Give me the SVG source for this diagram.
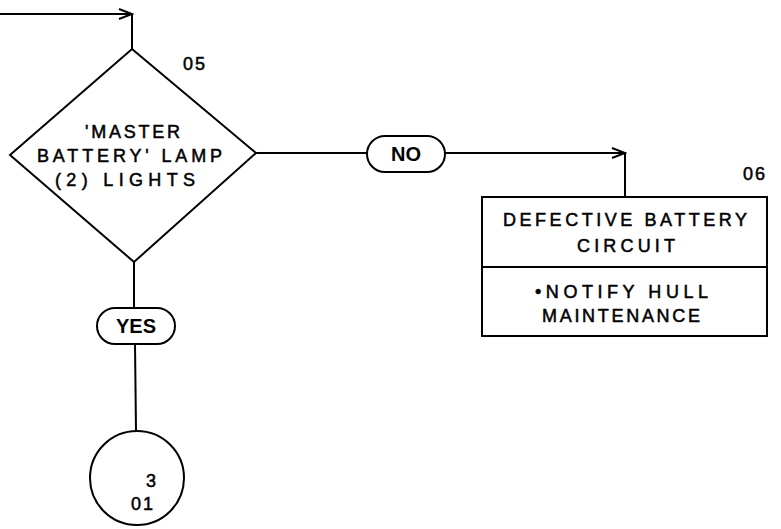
<svg xmlns="http://www.w3.org/2000/svg" width="781" height="529" viewBox="0 0 781 529">
<style>
.ln{fill:none;stroke:#000;stroke-width:2;stroke-linejoin:miter}
.shape{fill:#fff;stroke:#000;stroke-width:2}
.t{font-family:"Liberation Sans",Arial,sans-serif;font-size:18px;fill:#000;stroke:#000;stroke-width:0.5}
.b{font-family:"Liberation Sans",Arial,sans-serif;font-size:20px;font-weight:bold;fill:#000;text-anchor:middle}
.n{font-family:"Liberation Sans",Arial,sans-serif;font-size:18px;fill:#000;stroke:#000;stroke-width:0.5;letter-spacing:2px}
</style>
<defs>
<marker id="arr" markerWidth="16" markerHeight="12" refX="14" refY="6" orient="auto" markerUnits="userSpaceOnUse">
<path d="M1,1 L14,6 L1,11" fill="none" stroke="#000" stroke-width="2"/>
</marker>
</defs>
<rect width="781" height="529" fill="#fff"/>
<g id="connectors">
<path class="ln" d="M0,14 L132,14" marker-end="url(#arr)"/>
<path class="ln" d="M132,14 L132,49"/>
<path class="ln" d="M256,153 L367,153"/>
<path class="ln" d="M445,153 L625,153" marker-end="url(#arr)"/>
<path class="ln" d="M625,153 L625,197"/>
<path class="ln" d="M134,262 L134,308"/>
<path class="ln" d="M135,344 L136,431"/>
</g>
<g id="n05">
<polygon class="shape" points="132,49 256,153 134,262 10,155"/>
<text class="t" x="85" y="138" textLength="95" lengthAdjust="spacing">'MASTER</text>
<text class="t" x="37" y="162" textLength="185" lengthAdjust="spacing">BATTERY' LAMP</text>
<text class="t" x="55" y="186" textLength="140" lengthAdjust="spacing">(2) LIGHTS</text>
<text class="n" x="183" y="70">05</text>
</g>
<g id="no">
<rect class="shape" x="367" y="136" width="78" height="36" rx="18" ry="18"/>
<text class="b" x="406" y="161">NO</text>
</g>
<g id="yes">
<rect class="shape" x="97" y="308" width="78" height="36" rx="18" ry="18"/>
<text class="b" x="136" y="333">YES</text>
</g>
<g id="n06">
<rect class="shape" x="482" y="197" width="285" height="139"/>
<line class="ln" x1="482" y1="267" x2="767" y2="267"/>
<text class="t" x="503" y="226" textLength="244" lengthAdjust="spacing">DEFECTIVE BATTERY</text>
<text class="t" x="577" y="252" textLength="98" lengthAdjust="spacing">CIRCUIT</text>
<text class="t" x="535" y="298" textLength="173" lengthAdjust="spacing">•NOTIFY HULL</text>
<text class="t" x="542" y="322" textLength="158" lengthAdjust="spacing">MAINTENANCE</text>
<text class="n" x="743" y="180">06</text>
</g>
<g id="c301">
<circle class="shape" cx="137" cy="478" r="47"/>
<text class="n" x="146" y="487">3</text>
<text class="n" x="131" y="510">01</text>
</g>
</svg>
